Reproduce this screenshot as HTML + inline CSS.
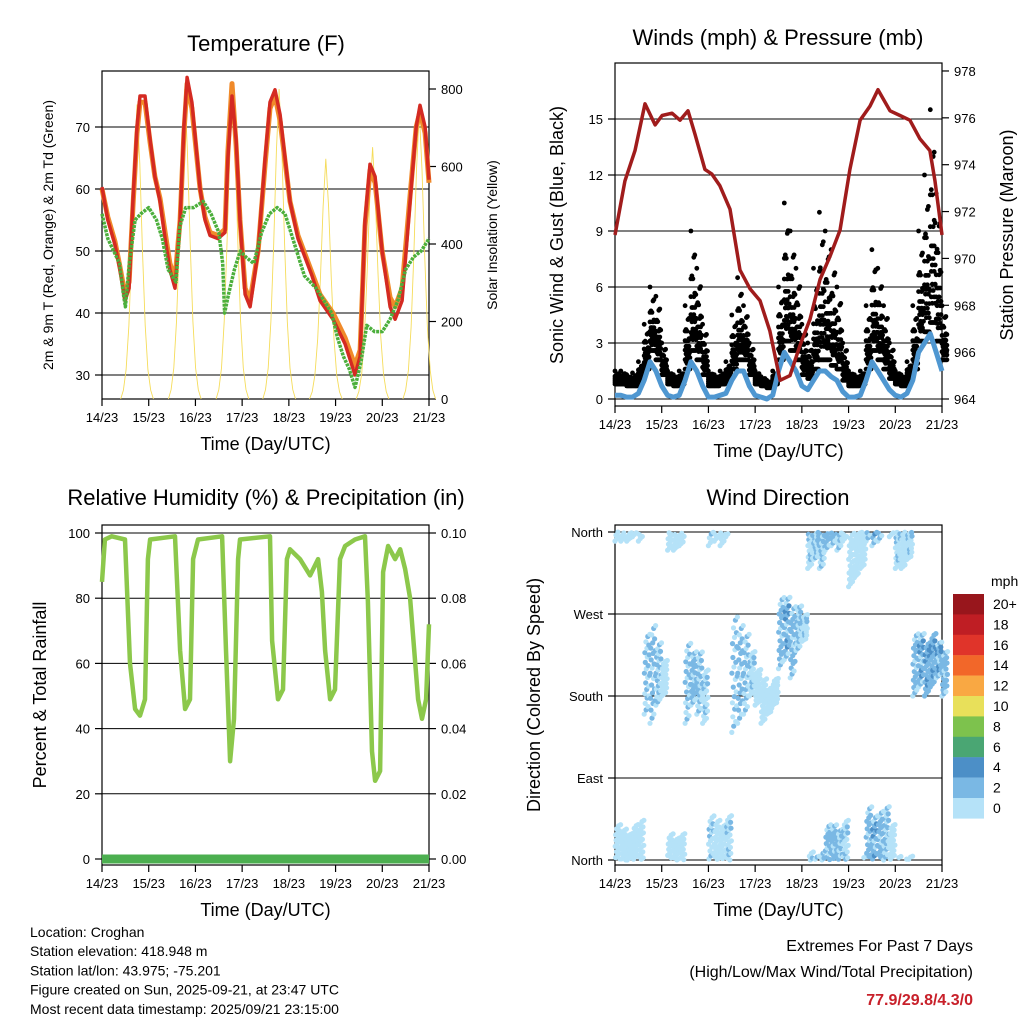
<!DOCTYPE html>
<html><head><meta charset="utf-8"><style>
body{margin:0;background:#fff}
svg{display:block;font-family:"Liberation Sans",sans-serif}
</style></head><body>
<svg id="c" width="1024" height="1024" viewBox="0 0 1024 1024" xmlns="http://www.w3.org/2000/svg">
<g id="g"></g>
</svg>
<script>
// ---- Temperature panel data ----
const tempHours=[0,3,6.7,9.2,11.8,13.9,15.9,18,19.5,22.1,24.7,27.2,29.8,32.4,34.9,37.5,40.1,42.1,43.7,46.2,50.4,52.9,55.5,59.6,63.2,64.7,66.8,68.9,70.9,73.5,76.1,80.2,83.8,86.3,88.9,91.5,96.6,100.7,104.3,107.9,112,118.7,124.9,130,132.6,135.1,137.7,140.3,143.9,148,150.6,154.2,158.3,161.4,163.4,166,168];
const tempRed=[60.3,55,51,47,42,44,58,70,75,75,68,62,58,52,47,44,55,70,78,74,60,55,52.5,52,53,65,75,68,55,43,41,50,65,74,76,72,58,52,49,46,42,39,35,30,33,55,64,62,50,41,39,42,58,70,73.5,70,61.5];
const tempOrange=[60,55.5,51.5,47.5,43,45,57,69,74,74,67.5,62,58.5,53,48,45.5,55,69,77,73,60,55.5,53,52.5,53.5,66,77,67,55,44,42,50,64,73,75,71,58,52.5,49.5,46.5,43,40,36,31.5,34,54,63,61,50,42.5,41,44,59,70,72.5,69,61];
const dewHours=[0,3,6,9,11,12,14,17,20,24,28,31,34,36,38,40,43,47,52,56,60,62,63,65,68,71,74,78,82,86,90,94,98,104,110,114,118,121,124,127,130,133,136,140,144,148,152,156,160,164,168];
const dewPt=[56,52,50,48,43,41,48,55,56,57,55,52,47,46,45,54,57,57,58,56,53,48,40,43,47,50,49,48,53,56,57,56,52,46,44,42,40,36,33,31,28,32,38,37,37,39,42,47,49,50,52];
const solarPeakHours=[18,42.5,67,91,115,139,163];
const solarPeakValues=[760,800,800,800,620,650,740];
const tempTicks=[30,40,50,60,70];
const solarTicks=[0,200,400,600,800];
const dayLabels=["14/23","15/23","16/23","17/23","18/23","19/23","20/23","21/23"];
// ---- Winds panel data (3-hour blocks) ----
const gustMax=[1.5,1.5,1.3,1.4,2.0, 4,6,5.5,3, 1.5,1.3,1.5, 5,9,7,4, 1.5,1.3,1.5,2, 4.5,6.5,5,3,1.5, 1.2,1.0,1.5, 6,10.5,9,7,4, 3,7,10, 9,8,6,3, 1.5,1.3,1.5, 5,8,7,5,3, 1.5,1.3,2, 5,9,12,15.5,11,5];
const windMean=[.2,.2,.1,.1,.3, 1,2,1.5,.7, .2,.1,.2, 1,2,1.5,.7, .1,.1,.2,.3, 1,1.5,1.5,.7,.2, .1,0,.2, 1.5,2.5,2,1.5,.7, .5,1,1.5, 1.5,1.2,1,.4, .1,.1,.2, 1,2,1.5,1,.5, .2,.1,.3, 1,2.5,3,3.5,2.5,1.5];
const presHours=[0,5.1,10.3,15.4,20.6,24.2,29.3,33.4,37.5,41.1,46.2,49.8,53.9,59.1,64.2,69.4,74.5,79.6,84.8,89.9,95.1,100.2,105.3,110.5,115.6,120.7,125.9,131,135.1,141.3,146.4,151.5,156.7,161.8,164.4,168];
const presVals=[971.0,973.3,974.6,976.6,975.7,976.1,976.2,975.9,976.3,975.3,973.8,973.6,973.1,972.1,969.5,968.7,968.2,966.9,964.8,965.0,966.3,967.4,969.1,970.1,971.2,973.8,975.9,976.5,977.2,976.3,976.1,975.9,975.1,974.6,973.3,971.0];
const windTicks=[0,3,6,9,12,15];
const presTicks=[964,966,968,970,972,974,976,978];
// ---- RH panel data ----
const rhHours=[0,1.5,5,11.8,14.4,17,19.5,22.1,23.6,24.7,37.5,40.1,42.7,45.2,46.8,49.3,61.7,63.7,65.8,67.8,69.9,70.9,86.3,87.4,90.4,93,95,96.6,101.7,106.9,111,113,114.6,117.2,119.7,122.3,124.9,130,135.1,136.6,138.7,140.3,142.9,144.4,147,150.6,153.2,155.7,158.3,162.4,164.4,166.5,168];
const rhVals=[85,98,99,98,60,46,44,49,92,98,99,64,46,49,92,98,99,64,30,43,92,98,99,67,49,52,92,95,92,87,92,82,64,49,52,92,96,98,99,79,33,24,27,88,96,92,95,89,80,49,43,49,72];
const rhTicks=[0,20,40,60,80,100];
const rainTicks=["0.00","0.02","0.04","0.06","0.08","0.10"];
// ---- Wind direction data (3-hour blocks) ----
const dirLow=[-10,-10,-10,-5,-10, 160,150,170,180, -20,-20,-15, 150,170,160,150, -15,-10,-15,-5, 140,150,160,180,170, 150,160,170, 210,220,200,230,240, 320,330,320, -20,-15,-20,-10, 300,310,320, -10,-15,-10,0,-5, 320,320,330, 180,190,180,190,200,180];
const dirHigh=[40,35,30,40,45, 250,260,240,220, 30,25,30, 240,230,230,210, 50,45,40,50, 270,260,250,230,210, 200,190,200, 290,290,280,280,270, 370,365,370, 40,40,35,45, 360,360,365, 60,50,55,60,40, 365,362,365, 250,250,240,250,240,230];
const dirSpeed=[0.5,0.5,0.4,0.5,0.8, 2,2.5,2,1.2, 0.8,0.6,0.8, 2,2.5,2.2,1.5, 1.5,1.2,1.2,1.5, 2.2,2.5,2,1.5,1, 0.8,0.6,0.8, 2.5,3,2.5,2,1.5, 1.5,2,2.2, 2.5,2.8,2.2,1.5, 1,1,1.2, 2.5,3,2.5,2,1.2, 1.5,1.2,1.5, 2.5,3,3.5,3.5,3,2.5];
const legendLabels=["20+","18","16","14","12","10","8","6","4","2","0"];
const legendColors=["#98161c","#bf1e24","#e0342a","#f26729","#f9a843","#e8e05a","#7dc24d","#4aa673","#4c8fc7","#7ab8e4","#b5e2f8"];

const NS="http://www.w3.org/2000/svg";
const G=document.getElementById('g');
function mk(tag,attrs,parent){const e=document.createElementNS(NS,tag);for(const k in attrs)e.setAttribute(k,attrs[k]);(parent||G).appendChild(e);return e;}
function txt(s,x,y,size,anchor,parent,extra){const t=mk('text',Object.assign({x:x,y:y,'font-size':size,'text-anchor':anchor||'middle',fill:'#000'},extra||{}),parent);t.textContent=s;return t;}

const X0L=102,X1L=429,X0R=615,X1R=942;
const xL=h=>X0L+h*(X1L-X0L)/168, xR=h=>X0R+h*(X1R-X0R)/168;
const yT=v=>375-(v-30)*6.2, yS=v=>399-v*0.3875;
const yW=v=>399-v*56/3, yP=p=>399-(p-964)*23.43;
const yRH=v=>859-v*3.26;
const yD=d=>860-d*328/360;

function frame(x0,y0,x1,y1,name){
  const g=mk('g',{});
  
  
  mk('rect',{x:x0,y:y0,width:x1-x0,height:y1-y0,fill:'none',stroke:'#000','stroke-width':1.2},g);
  return g;
}
function xAxis(x0,x1,yb,parent){
  const g=mk('g',{},parent);
  
  
  dayLabels.forEach((l,i)=>{const x=x0+i*(x1-x0)/7;
    mk('line',{x1:x,x2:x,y1:yb,y2:yb+7,stroke:'#000','stroke-width':1.2},g);
    const t=txt(l,x,yb+23,13,'middle',g);
    
    });
  const t=txt('Time (Day/UTC)',(x0+x1)/2,yb+51,18,'middle',g);
  
  
}
function yTicks(vals,fn,x,side,labels,parent,name,grid,x1){
  const g=mk('g',{},parent);
  
  
  vals.forEach((v,i)=>{const y=fn(v);
    if(grid) mk('line',{x1:x,x2:x1,y1:y,y2:y,stroke:'#000','stroke-width':1},g);
    mk('line',{x1:x,x2:x+(side<0?-7:7),y1:y,y2:y,stroke:'#000','stroke-width':1.2},g);
    const t=txt(labels?labels[i]:String(v),x+(side<0?-12:12),y+5,13,side<0?'end':'start',g);
    
    });
}
function poly(hs,vs,fx,fy,attrs,name,parent){
  const p=mk('polyline',Object.assign({points:hs.map((h,i)=>fx(h).toFixed(1)+','+fy(vs[i]).toFixed(1)).join(' '),fill:'none'},attrs),parent);
  
  
  return p;
}

// ===== Panel 1 Temperature =====
let f=frame(X0L,71,X1L,399,'temperature-panel');
let t=txt('Temperature (F)',266,51,22,'middle',f);

yTicks(tempTicks,yT,X0L,-1,null,f,'temp-y-axis',true,X1L);
yTicks(solarTicks,yS,X1L,1,null,f,'solar-y-axis',false);
xAxis(X0L,X1L,399,f);
t=txt('2m & 9m T (Red, Orange) & 2m Td (Green)',0,0,14,'middle',f,{transform:'translate(53,235) rotate(-90)'});

t=txt('Solar Insolation (Yellow)',0,0,14,'middle',f,{transform:'translate(497,235) rotate(-90)'});

const solarShape=[0,0.03,0.1,0.25,0.5,0.8,1,0.8,0.5,0.25,0.1,0.03,0];
solarPeakHours.forEach((ph,i)=>{
  const hs=solarShape.map((s,k)=>ph+(k-6)*1.4);
  const vs=solarShape.map(s=>s*solarPeakValues[i]);
  poly(hs,vs,xL,yS,{stroke:'#f5dc5a','stroke-width':0.9},'solar-curve',f);
});
poly(tempHours,tempOrange,xL,yT,{stroke:'#f08a2a','stroke-width':5,'stroke-linejoin':'round'},'temp-9m-line',f);
poly(tempHours,tempRed,xL,yT,{stroke:'#d42a22','stroke-width':3.5,'stroke-linejoin':'round'},'temp-2m-line',f);
poly(dewHours,dewPt,xL,yT,{stroke:'#4caf3c','stroke-width':3.5,'stroke-dasharray':'3 1','stroke-linejoin':'round'},'dewpoint-line',f);

// ===== Panel 2 Winds =====
f=frame(X0R,63,X1R,406,'winds-panel');
t=txt('Winds (mph) & Pressure (mb)',778,45,22,'middle',f);

yTicks(windTicks,yW,X0R,-1,null,f,'wind-y-axis',true,X1R);
yTicks(presTicks,yP,X1R,1,null,f,'pressure-y-axis',false);
xAxis(X0R,X1R,406,f);
t=txt('Sonic Wind & Gust (Blue, Black)',0,0,18,'middle',f,{transform:'translate(563,235) rotate(-90)'});

t=txt('Station Pressure (Maroon)',0,0,18,'middle',f,{transform:'translate(1013,235) rotate(-90)'});

const gg=mk('g',{},f);


const fr=[0.0,0.15,0.3,0.45,0.6,0.78,1.0];
gustMax.forEach((gm,i)=>{
  for(let c=0;c<6;c++){
    const h=i*3+c*0.5;
    const lo=windMean[i]+0.6;
    fr.forEach((q,k)=>{
      if(((k+c)%2===1)&&k>3) return;
      const v=lo+(gm-lo)*q*(c%3===0?1:(c%3===1?0.8:0.6));
      mk('circle',{cx:xR(h).toFixed(1),cy:yW(v).toFixed(1),r:2.4,fill:'#000'},gg);
    });
  }
});
const whs=[],wvs=[];
windMean.forEach((w,i)=>{whs.push(i*3);wvs.push(w);});
poly(whs,wvs,xR,yW,{stroke:'#4f97d1','stroke-width':5,'stroke-linejoin':'round'},'sonic-wind-line',f);
poly(presHours,presVals,xR,yP,{stroke:'#a01c1c','stroke-width':3.5,'stroke-linejoin':'round'},'pressure-line',f);

// ===== Panel 3 RH =====
f=frame(X0L,525,X1L,865,'rh-panel');
t=txt('Relative Humidity (%) & Precipitation (in)',266,505,22,'middle',f);

yTicks(rhTicks,yRH,X0L,-1,null,f,'rh-y-axis',true,X1L);
yTicks(rhTicks,yRH,X1L,1,rainTicks,f,'rain-y-axis',false);
xAxis(X0L,X1L,865,f);
t=txt('Percent & Total Rainfall',0,0,18,'middle',f,{transform:'translate(46,695) rotate(-90)'});

poly(rhHours,rhVals,xL,yRH,{stroke:'#8cc84b','stroke-width':4.5,'stroke-linejoin':'round'},'rh-line',f);
poly([0,168],[0,0],xL,yRH,{stroke:'#4caf50','stroke-width':9},'precip-line',f);

// ===== Panel 4 Wind direction =====
f=frame(X0R,525,X1R,865,'direction-panel');
t=txt('Wind Direction',778,505,22,'middle',f);

yTicks([0,90,180,270,360],yD,X0R,-1,['North','East','South','West','North'],f,'direction-y-axis',true,X1R);
xAxis(X0R,X1R,865,f);
t=txt('Direction (Colored By Speed)',0,0,18,'middle',f,{transform:'translate(540,695) rotate(-90)'});

const dg=mk('g',{},f);


function spdColor(s){return s<2?'#b5e2f8':(s<4?'#7ab8e4':'#4c8fc7');}
const colOff=[0,0.53,0.21,0.79,0.37,0.9];
dirLow.forEach((lo,i)=>{
  const hi=dirHigh[i];
  for(let c=0;c<6;c++){
    const n=4;
    for(let k=0;k<n;k++){
      const h=i*3+c*0.5+((k*0.29)%0.5);
      let d=lo+(hi-lo)*((k+colOff[c])/n);
      if(d<0)d+=360; if(d>360)d-=360;
      const s=dirSpeed[i]*(0.6+0.25*((k+c)%4));
      mk('circle',{cx:xR(h).toFixed(1),cy:yD(d).toFixed(1),r:2.6,fill:spdColor(s)},dg);
    }
  }
});
const lg=mk('g',{});


t=txt('mph',991,586,14,'start',lg);
legendColors.forEach((c,i)=>{const y=594+i*20.4;
  mk('rect',{x:953,y:y,width:31,height:20.6,fill:c},lg);
  const l=txt(legendLabels[i],993,y+15,14,'start',lg);
  
  });

const info=["Location: Croghan","Station elevation: 418.948 m","Station lat/lon: 43.975; -75.201","Figure created on Sun, 2025-09-21, at 23:47 UTC","Most recent data timestamp: 2025/09/21 23:15:00"];
const ig=mk('g',{});


info.forEach((s,i)=>txt(s,30,937+i*19.2,14,'start',ig));
const eg=mk('g',{});


txt('Extremes For Past 7 Days',973,951,16,'end',eg);
txt('(High/Low/Max Wind/Total Precipitation)',973,977,16,'end',eg);
txt('77.9/29.8/4.3/0',973,1005,16,'end',eg,{fill:'#c8202a','font-weight':'bold'});
</script>
</body></html>
